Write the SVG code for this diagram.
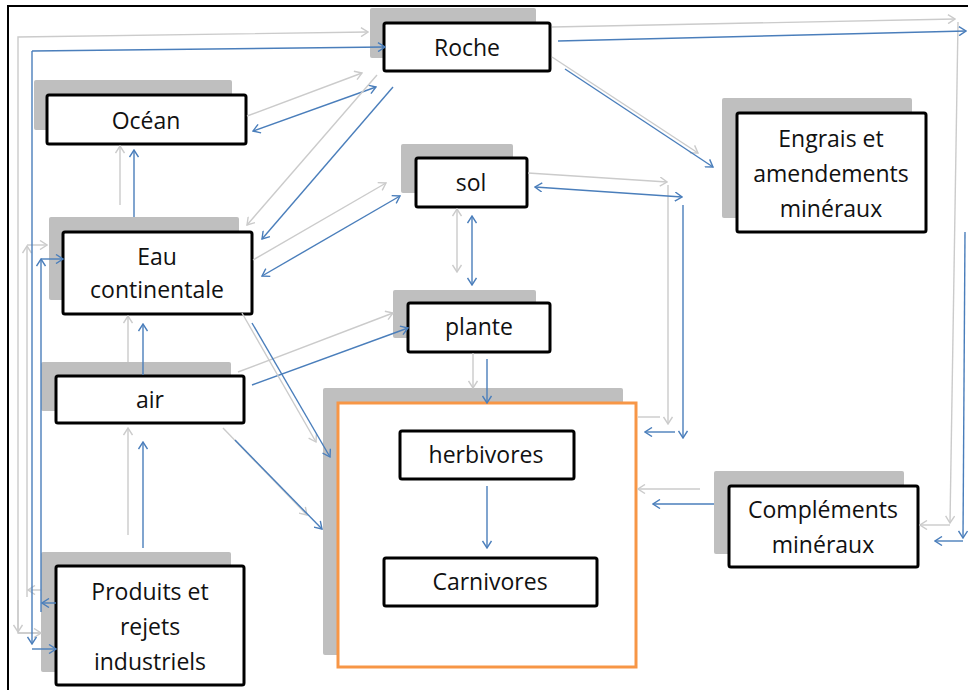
<svg xmlns="http://www.w3.org/2000/svg" width="968" height="690" viewBox="0 0 968 690">
<style>
.sh{fill:#bfbfbf}
.bx{fill:#fff;stroke:#000;stroke-width:3}
.t{font-family:"Open Sans","Liberation Sans",sans-serif;font-size:23px;fill:#111;text-anchor:middle}
.g{fill:none;stroke:#cbcbcb;stroke-width:1.4}
.b{fill:none;stroke:#4a7ebb;stroke-width:1.4}
.g.e{marker-end:url(#ag)}
.b.e{marker-end:url(#ab)}
.g.s{marker-start:url(#ag)}
.b.s{marker-start:url(#ab)}
</style>
<defs>
<marker id="ag" viewBox="0 0 10 10" refX="9" refY="5" markerWidth="10" markerHeight="10" markerUnits="userSpaceOnUse" orient="auto-start-reverse"><path d="M2,0.5 L9,5 L2,9.5" fill="none" stroke="#cbcbcb" stroke-width="1.4"/></marker>
<marker id="ab" viewBox="0 0 10 10" refX="9" refY="5" markerWidth="10" markerHeight="10" markerUnits="userSpaceOnUse" orient="auto-start-reverse"><path d="M2,0.5 L9,5 L2,9.5" fill="none" stroke="#4a7ebb" stroke-width="1.4"/></marker>
</defs>
<rect width="968" height="690" fill="#fff"/>
<path d="M8,690 L8,6 L968,6" fill="none" stroke="#000" stroke-width="2"/>

<g id="roche"><rect class="sh" x="370" y="8" width="166" height="50" rx="2"/><rect class="bx" x="384" y="23" width="166" height="48" rx="2"/><text class="t" x="467" y="56">Roche</text></g>
<g id="ocean"><rect class="sh" x="34" y="80" width="198" height="50" rx="2"/><rect class="bx" x="47" y="95" width="199" height="49" rx="2"/><text class="t" x="146" y="129">Océan</text></g>
<g id="eau"><rect class="sh" x="49" y="217" width="190" height="83" rx="2"/><rect class="bx" x="63" y="232" width="189" height="82" rx="2"/><text class="t" x="157" y="265">Eau</text><text class="t" x="157" y="298">continentale</text></g>
<g id="air"><rect class="sh" x="41" y="362" width="190" height="49" rx="2"/><rect class="bx" x="56" y="376" width="188" height="47" rx="2"/><text class="t" x="150" y="408">air</text></g>
<g id="produits"><rect class="sh" x="41" y="552" width="190" height="120" rx="2"/><rect class="bx" x="56" y="566" width="188" height="119" rx="2"/><text class="t" x="150" y="600">Produits et</text><text class="t" x="150" y="635">rejets</text><text class="t" x="150" y="670">industriels</text></g>
<g id="sol"><rect class="sh" x="401" y="144" width="112" height="49" rx="2"/><rect class="bx" x="416" y="158" width="111" height="49" rx="2"/><text class="t" x="471" y="191">sol</text></g>
<g id="plante"><rect class="sh" x="393" y="290" width="143" height="48" rx="2"/><rect class="bx" x="408" y="303" width="142" height="49" rx="2"/><text class="t" x="479" y="335">plante</text></g>
<g id="animaux"><rect class="sh" x="323" y="388" width="300" height="267" rx="2"/><rect x="338" y="403" width="298" height="264" fill="#fff" stroke="#f79646" stroke-width="3"/>
<g id="herbivores"><rect class="bx" x="400" y="431" width="174" height="48" rx="2"/><text class="t" x="486" y="463">herbivores</text></g>
<g id="carnivores"><rect class="bx" x="384" y="558" width="213" height="48" rx="2"/><text class="t" x="490" y="590">Carnivores</text></g>
</g>
<g id="engrais"><rect class="sh" x="722" y="98" width="190" height="120" rx="2"/><rect class="bx" x="737" y="113" width="189" height="119" rx="2"/><text class="t" x="831" y="147">Engrais et</text><text class="t" x="831" y="182">amendements</text><text class="t" x="831" y="217">minéraux</text></g>
<g id="complements"><rect class="sh" x="714" y="471" width="190" height="83" rx="2"/><rect class="bx" x="729" y="486" width="189" height="81" rx="2"/><text class="t" x="823" y="518">Compléments</text><text class="t" x="823" y="553">minéraux</text></g>

<g id="connectors">
<path class="g e" d="M41,633 L18,633 L18,37 L368,32"/>
<path class="g e" d="M18,600 L18,632"/>
<path class="g e" d="M18,633 L41,633"/>
<path class="g e" d="M41,590 L28,590"/>
<path class="g e" d="M27,597 L27,246"/>
<path class="g e" d="M27,245 L47,245"/>
<path class="b e" d="M32,51 L385,47"/>
<path class="b e" d="M32,51 L32,644"/>
<path class="b e" d="M32,649 L56,649"/>
<path class="b e" d="M56,603 L42,603"/>
<path class="b e" d="M41,612 L41,259"/>
<path class="b e" d="M41,259 L63,259"/>
<path class="g e" d="M120,205 L120,146"/>
<path class="b e" d="M134,217 L134,150"/>
<path class="g e" d="M128,362 L128,316"/>
<path class="b e" d="M143,375 L143,324"/>
<path class="g e" d="M128,535 L128,428"/>
<path class="b e" d="M143,548 L143,442"/>
<path class="g e" d="M247,116 L362,73"/>
<path class="b s e" d="M253,131 L376,87"/>
<path class="g e" d="M377,75 L247,225"/>
<path class="b e" d="M393,87 L262,239"/>
<path class="g e" d="M253,260 L386,183"/>
<path class="b s e" d="M262,276 L400,196"/>
<path class="g e" d="M238,372 L393,313"/>
<path class="b e" d="M252,385 L408,328"/>
<path class="g e" d="M242,313 L316,442"/>
<path class="b e" d="M252,323 L330,457"/>
<path class="g e" d="M223,428 L307,515"/>
<path class="b e" d="M235,440 L322,529"/>
<path class="g s e" d="M457,209 L457,272"/>
<path class="b s e" d="M472,216 L472,285"/>
<path class="g e" d="M473,353 L473,388"/>
<path class="b e" d="M487,359 L487,403"/>
<path class="g e" d="M528,173 L667,182"/>
<path class="g e" d="M668,185 L668,424"/>
<path class="g" d="M638,417 L660,417"/>
<path class="b s e" d="M535,187 L682,197"/>
<path class="b e" d="M683,205 L683,438"/>
<path class="b e" d="M675,432 L645,432"/>
<path class="g e" d="M700,489 L638,489"/>
<path class="b e" d="M714,504 L653,504"/>
<path class="g e" d="M552,57 L698,153"/>
<path class="b e" d="M565,69 L713,167"/>
<path class="g e" d="M552,27 L955,19"/>
<path class="g e" d="M958,22 L950,523"/>
<path class="g e" d="M950,525 L920,525"/>
<path class="b e" d="M558,41 L966,31"/>
<path class="b e" d="M965,232 L963,538"/>
<path class="b e" d="M963,541 L935,541"/>
<path class="b e" d="M487,486 L487,548"/>
</g>
</svg>
